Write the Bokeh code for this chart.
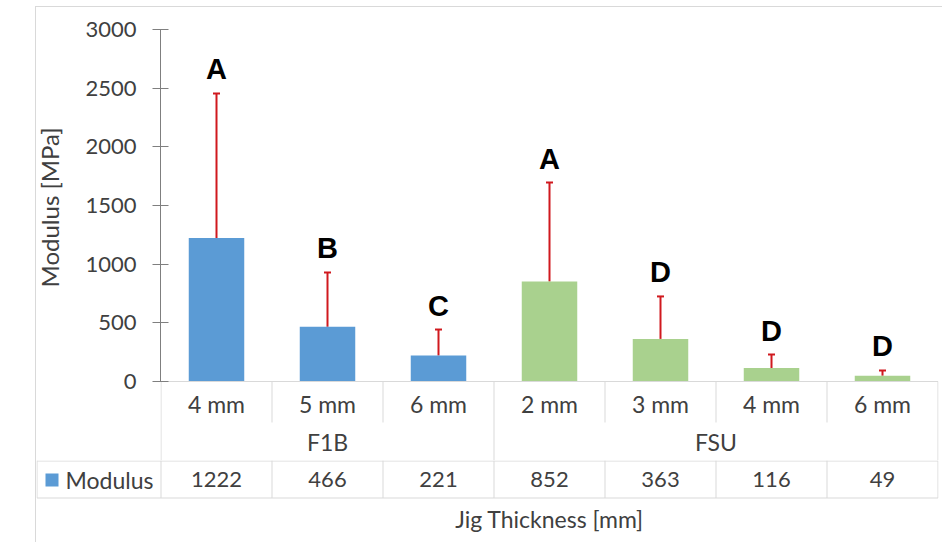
from math import pi
from bokeh.plotting import figure
from bokeh.layouts import row, column
from bokeh.models import (ColumnDataSource, Range1d, FixedTicker, Whisker,
                          TeeHead, Spacer)
from bokeh.core.properties import value
from bokeh.embed import file_html
from bokeh.resources import INLINE

# ---------------- data ----------------
groups = ["F1B", "FSU"]
group_sizes = [3, 4]
thickness = ["4 mm", "5 mm", "6 mm", "2 mm", "3 mm", "4 mm", "6 mm"]
modulus = [1222, 466, 221, 852, 363, 116, 49]
error_top = [2455, 929, 443, 1696, 725, 230, 94]
letters = ["A", "B", "C", "A", "D", "D", "D"]
series_name = "Modulus"
y_label = "Modulus [MPa]"
x_label = "Jig Thickness [mm]"
y_ticks = [0, 500, 1000, 1500, 2000, 2500, 3000]

# ---------------- style / layout ----------------
BLUE = "#5B9BD5"
GREEN = "#A9D18E"
RED = "#D0191E"
GRID = "#D9D9D9"
TXT = "#404040"
AXIS = "#7F7F7F"
FONT = "Lato"
FS_NUM = "22px"
FS_TXT = "23px"
LETTER_GAP = 24                   # px between error cap and letter centre

W, H = 942, 542
BX, BY = 35, 6                    # outer chart border (page px)
X0, COLW = 160.5, 111.0           # page x of category 0 edge, column width
Y0, Y3000 = 381.0, 29.0           # page rows of 0 and 3000
PPU = (Y0 - Y3000) / 3000.0
FRAME_R = 938                     # page x of right frame edge
ROW_SPLIT = 460                   # page row where the table figure starts
LBL_R = 80                        # right edge of the y-label strip

def dx(px):
    return (px - X0) / COLW

def dy(py):
    return (Y0 - py) / PPU

n = len(modulus)
xs = [i + 0.5 for i in range(n)]
colors = []
for g, s in zip(groups, group_sizes):
    colors += [BLUE if g == "F1B" else GREEN] * s
bounds = [0]
for s in group_sizes:
    bounds.append(bounds[-1] + s)
gx = [(bounds[i] + bounds[i + 1]) / 2 for i in range(len(groups))]

src = ColumnDataSource(dict(x=xs, top=modulus, err=error_top, letter=letters,
                            letter_y=[e + LETTER_GAP / PPU for e in error_top],
                            cat=thickness, color=colors,
                            val=[str(v) for v in modulus]))

def clean(f):
    f.grid.visible = False
    f.outline_line_color = None
    f.background_fill_color = "white"
    f.border_fill_color = "white"

# ---------------- y-label strip ----------------
lf = figure(width=LBL_R - BX - 1, height=ROW_SPLIT - BY - 1,
            x_range=Range1d(BX + 1, LBL_R), y_range=Range1d(ROW_SPLIT, BY + 1),
            min_border=0, x_axis_location=None, y_axis_location=None,
            output_backend="svg", toolbar_location=None)
clean(lf)
lf.text(x=[49], y=[(Y0 + Y3000) / 2 - 11], text=[y_label], angle=pi / 2,
        text_align="center", text_baseline="middle", text_font=value(FONT),
        text_font_size="24px", text_color=TXT)

# ---------------- main chart ----------------
p = figure(width=W - LBL_R, height=ROW_SPLIT - BY - 1,
           x_range=Range1d(dx(X0 - 0.5), dx(FRAME_R)),
           y_range=Range1d(dy(ROW_SPLIT), 3000),
           min_border_left=int(X0 - 0.5 - LBL_R), min_border_right=W - FRAME_R,
           min_border_top=int(Y3000 - BY - 1), min_border_bottom=0,
           x_axis_location=None, output_backend="svg", toolbar_location=None)
clean(p)
ya = p.yaxis[0]
ya.bounds = (0, 3000)
ya.ticker = FixedTicker(ticks=y_ticks)
ya.minor_tick_line_color = None
ya.major_tick_in = 8
ya.major_tick_out = 8
ya.axis_line_color = AXIS
ya.major_tick_line_color = AXIS
ya.major_label_text_font = FONT
ya.major_label_text_font_size = FS_NUM
ya.major_label_text_color = TXT
ya.major_label_standoff = 16

p.vbar(x="x", top="top", bottom=0, width=0.5, fill_color="color",
       line_color=None, source=src)
p.add_layout(Whisker(base="x", lower="top", upper="err", source=src,
                     line_color=RED, line_width=2,
                     upper_head=TeeHead(size=7, line_color=RED, line_width=2),
                     lower_head=None))
p.text(x="x", y="letter_y", text="letter", source=src, text_align="center",
       text_baseline="middle",
       text_font=value("Liberation Sans"), text_font_style="bold",
       text_font_size="29px", text_color="black")

# category axis lines
p.segment(x0=[0], y0=[0], x1=[n], y1=[0], line_color=GRID, line_width=1)
sep_x, sep_y1 = [], []
for k in range(n + 1):
    sep_x.append(k)
    sep_y1.append(dy(ROW_SPLIT) if k in bounds else dy(422))
p.segment(x0=sep_x, y0=[0] * len(sep_x), x1=sep_x, y1=sep_y1,
          line_color=GRID, line_width=1)
p.text(x="x", y=dy(403), text="cat", source=src, text_align="center",
       text_baseline="middle", text_font=value(FONT), text_font_size=FS_TXT,
       text_color=TXT)
p.text(x=gx, y=[dy(441)] * len(groups), text=groups, text_align="center",
       text_baseline="middle", text_font=value(FONT), text_font_size=FS_TXT,
       text_color=TXT)

# ---------------- data table ----------------
t = figure(width=W - BX - 1, height=H - ROW_SPLIT,
           x_range=Range1d(dx(BX + 1), dx(FRAME_R)),
           y_range=Range1d(H, ROW_SPLIT),
           min_border_left=0, min_border_right=W - FRAME_R,
           min_border_top=0, min_border_bottom=0,
           x_axis_location=None, y_axis_location=None,
           output_backend="svg", toolbar_location=None)
clean(t)
T_TOP, T_BOT, T_LEFT = 460.5, 497.5, 36.5
t.segment(x0=[dx(T_LEFT)] * 2, y0=[T_TOP, T_BOT], x1=[n] * 2, y1=[T_TOP, T_BOT],
          line_color=GRID, line_width=1)
vx = [dx(T_LEFT)] + list(range(n + 1))
t.segment(x0=vx, y0=[ROW_SPLIT] * len(vx), x1=vx, y1=[T_BOT] * len(vx),
          line_color=GRID, line_width=1)
t.text(x="x", y=479, text="val", source=src, text_align="center",
       text_baseline="middle", text_font=value(FONT), text_font_size=FS_NUM,
       text_color=TXT)
t.quad(left=[dx(45)], right=[dx(58)], top=[473], bottom=[486],
       fill_color=BLUE, line_color=None)
t.text(x=[dx(65)], y=[479], text=[series_name], text_align="left",
       text_baseline="middle", text_font=value(FONT), text_font_size=FS_TXT,
       text_color=TXT)
t.text(x=[n / 2], y=[518], text=[x_label], text_align="center",
       text_baseline="middle", text_font=value(FONT), text_font_size=FS_TXT,
       text_color=TXT)

# ---------------- outer border + assembly ----------------
bg = {"background-color": GRID}
vline = column(Spacer(width=1, height=BY), Spacer(width=1, height=H - BY, styles=bg))
right = column(Spacer(width=W - BX - 1, height=BY),
               Spacer(width=W - BX - 1, height=1, styles=bg),
               row(lf, p), t)
root = row(Spacer(width=BX, height=H), vline, right)

open("out.html", "w").write(file_html(root, INLINE))
